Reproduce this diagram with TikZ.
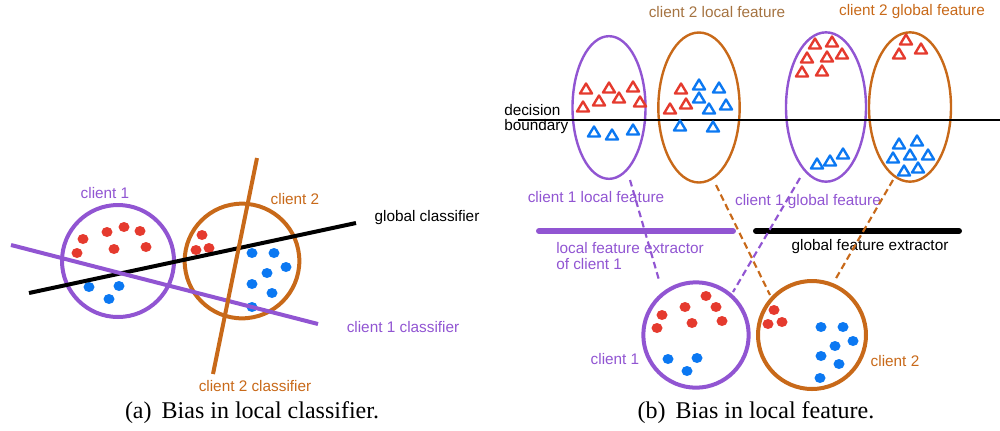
\documentclass[tikz,border=0pt]{standalone}
\usepackage{fontspec}
\setmainfont{Liberation Serif}
\setsansfont{Liberation Sans}
\usetikzlibrary{shapes.geometric}
\definecolor{purp}{RGB}{145,85,210}
\definecolor{orng}{RGB}{200,105,25}
\definecolor{brwn}{RGB}{165,115,65}
\definecolor{dred}{RGB}{229,58,46}
\definecolor{dblue}{RGB}{11,120,242}
\begin{document}
\begin{tikzpicture}[x=0.75pt,y=-0.75pt,
 lbl/.style={font=\sffamily\fontsize{11.5}{13}\selectfont, inner sep=0pt},
 captxt/.style={font=\rmfamily\fontsize{18}{20}\selectfont, inner sep=0pt},
 bigcirc/.style={circle, draw, line width=3pt, inner sep=0pt},
 feat/.style={ellipse, draw, line width=1.8pt, inner sep=0pt},
 cls/.style={line width=3pt},
 dashconn/.style={dash pattern=on 5pt off 3pt, line width=1.6pt},
 ext/.style={line width=4.5pt, line cap=round},
 tri/.style={line width=1.8pt, line join=round}
]
\useasboundingbox (0,0) rectangle (1000,430);
% ---------- left panel ----------
\node[bigcirc, purp, minimum size=84pt] (c1) at (118,261) {};
\node[bigcirc, orng, minimum size=86pt] (c2) at (242,261) {};
\foreach \p in {(83,239),(77,253),(107,232),(124,227),(140,231),(114,249),(146,247),(202,235),(196,250),(209,248)}
  \fill[dred] \p ellipse[x radius=5.5, y radius=5];
\foreach \p in {(89,287),(119,286),(109,299),(252,253),(274,253),(286,267),(267,273),(252,284),(272,293),(252,307)}
  \fill[dblue] \p ellipse[x radius=5.5, y radius=5];
\coordinate (g1) at (29,293);
\coordinate (g2) at (356,223);
\coordinate (p1) at (11,245);
\coordinate (p2) at (318,324);
\coordinate (o1) at (257,158);
\coordinate (o2) at (213,374);
\draw[cls, black] (g1) -- (g2);
\draw[cls, purp] (p1) -- (p2);
\draw[cls, orng] (o1) -- (o2);
\node[lbl, purp] (lc1) at (105,193) {client 1};
\node[lbl, orng] (lc2) at (295,199) {client 2};
\node[lbl, black] (lgc) at (427,218) {global classifier};
\node[lbl, purp] (lc1c) at (403,327) {client 1 classifier};
\node[lbl, orng] (lc2c) at (255,386) {client 2 classifier};
\node[captxt] (capa) at (252,413) {(a)\hspace{0.17em} Bias in local classifier.};
% ---------- right panel ----------
\node[feat, purp, minimum width=54.75pt, minimum height=107pt] (e1) at (609,107.5) {};
\node[feat, orng, minimum width=61pt, minimum height=112.5pt] (e2) at (699,107.5) {};
\node[feat, purp, minimum width=60pt, minimum height=112pt] (e3) at (826,107) {};
\node[feat, orng, minimum width=61.5pt, minimum height=112pt] (e4) at (910,107) {};
\coordinate (db1) at (518,120);
\coordinate (db2) at (1000,120);
\draw[line width=1.8pt, black] (db1) -- (db2);
\foreach \p in {(586,89),(609,88),(633,87),(599,101),(619,98),(640,102),(583,107),
                (681,89),(686,104),(670,109),
                (815,44),(832,42),(807,58),(827,57),(842,54),(802,72),(822,71),
                (906,40),(921,49),(899,54)}
  \draw[tri, dred, shift={\p}] (-6,4.5) -- (0,-5.5) -- (6,4.5) -- cycle;
\foreach \p in {(594,132),(612,135),(633,130),
                (699,85),(719,88),(699,98),(726,105),(709,109),(680,126),(713,127),
                (817,164),(830,161),(843,154),
                (899,144),(917,141),(893,158),(910,155),(928,155),(904,171),(918,168)}
  \draw[tri, dblue, shift={\p}] (-6,4.5) -- (0,-5.5) -- (6,4.5) -- cycle;
\node[lbl, brwn] (l2lf) at (717,12) {client 2 local feature};
\node[lbl, orng] (l2gf) at (912,12) {client 2 global feature};
\node[lbl, black, anchor=west, align=left] (ldec) at (504,119) {decision\\[-1.2pt]boundary};
\node[lbl, purp] (l1lf) at (596,197) {client 1 local feature};
\node[lbl, purp] (l1gf) at (808,202) {client 1 global feature};
\coordinate (x1a) at (539,231);
\coordinate (x1b) at (733,231);
\coordinate (x2a) at (756,231);
\coordinate (x2b) at (959,231);
\draw[ext, purp] (x1a) -- (x1b);
\draw[ext, black] (x2a) -- (x2b);
\node[lbl, purp, anchor=west, align=left] (llfe) at (556,256) {local feature extractor\\[-1.2pt]of client 1};
\node[lbl, black] (lgfe) at (870,247) {global feature extractor};
\node[bigcirc, purp, minimum size=79pt] (b1) at (696,335) {};
\node[bigcirc, orng, minimum size=81pt] (b2) at (812,335) {};
\foreach \p in {(662,315),(657,328),(685,307),(706,296),(716,307),(692,323),(722,321),(774,310),(768,324),(782,322)}
  \fill[dred] \p ellipse[x radius=5.5, y radius=5];
\foreach \p in {(668,359),(697,358),(687,371),(821,327),(843,327),(853,341),(835,346),(821,356),(839,364),(820,378)}
  \fill[dblue] \p ellipse[x radius=5.5, y radius=5];
\node[lbl, purp] (lb1) at (615,359) {client 1};
\node[lbl, orng] (lb2) at (895,361) {client 2};
\coordinate (d1a) at (630,180);
\coordinate (d1b) at (659,280);
\coordinate (d2a) at (716,185);
\coordinate (d2b) at (770,295);
\coordinate (d3a) at (800,178);
\coordinate (d3b) at (733,292);
\coordinate (d4a) at (893,180);
\coordinate (d4b) at (835,280);
\draw[dashconn, purp] (d1a) -- (d1b);
\draw[dashconn, orng] (d2a) -- (d2b);
\draw[dashconn, purp] (d3a) -- (d3b);
\draw[dashconn, orng] (d4a) -- (d4b);
\node[captxt] (capb) at (756,413) {(b)\hspace{0.17em} Bias in local feature.};
\end{tikzpicture}
\end{document}
